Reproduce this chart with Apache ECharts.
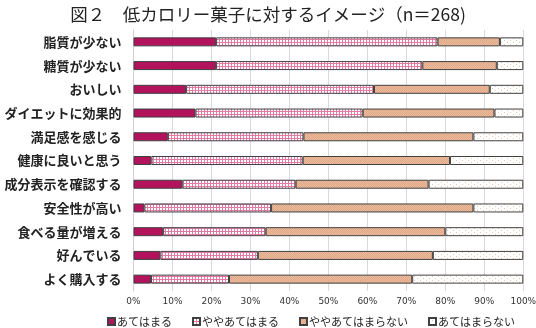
<!DOCTYPE html>
<html><head><meta charset="utf-8">
<script src="https://cdn.jsdelivr.net/npm/echarts@6/dist/echarts.min.js"></script>
<style>html,body{margin:0;padding:0;background:#fff;}#c{width:536px;height:328px;}</style>
</head><body><div id="c"></div>
<script>
const categories = ['脂質が少ない','糖質が少ない','おいしい','ダイエットに効果的','満足感を感じる','健康に良いと思う','成分表示を確認する','安全性が高い','食べる量が増える','好んでいる','よく購入する'];
const seriesNames = ['あてはまる','ややあてはまる','ややあてはまらない','あてはまらない'];
const atehamaru      = [21.2, 21.2, 13.5, 15.9,  8.8,  4.6, 12.5,  2.8,  7.6,  6.9,  4.5];
const yayaAtehamaru  = [56.8, 52.9, 48.2, 42.9, 34.8, 38.8, 29.1, 32.5, 26.3, 25.0, 20.0];
const yayaAtehamaranai = [16.0, 19.1, 29.7, 33.8, 43.6, 37.8, 34.1, 51.9, 46.1, 44.9, 47.0];
const atehamaranai   = [ 6.0,  6.8,  8.6,  7.4, 12.8, 18.8, 24.3, 12.8, 20.0, 23.2, 28.5];
const xTicks = [0,10,20,30,40,50,60,70,80,90,100];

function pattern(w, h, draw) {
  const c = document.createElement('canvas');
  c.width = w; c.height = h;
  const ctx = c.getContext('2d');
  draw(ctx);
  return { image: c, repeat: 'repeat' };
}
const hatch = pattern(3, 3, ctx => {
  ctx.fillStyle = '#ffffff'; ctx.fillRect(0,0,3,3);
  ctx.fillStyle = '#e27aa2'; ctx.fillRect(0,0,3,1); ctx.fillRect(0,0,1,3);
});
const tan = pattern(2, 2, ctx => {
  ctx.fillStyle = '#ebbb9c'; ctx.fillRect(0,0,2,2);
  ctx.fillStyle = '#dfa888'; ctx.fillRect(0,0,1,1); ctx.fillRect(1,1,1,1);
});
const dots = pattern(6, 4, ctx => {
  ctx.fillStyle = '#ffffff'; ctx.fillRect(0,0,6,4);
  ctx.fillStyle = '#e8c8b0'; ctx.fillRect(0,0,1,1); ctx.fillRect(3,2,1,1);
});
const fills = ['#b3125c', hatch, tan, dots];
const dataSets = [atehamaru, yayaAtehamaru, yayaAtehamaranai, atehamaranai];

const chart = echarts.init(document.getElementById('c'), null, {renderer: 'canvas'});
chart.setOption({
  backgroundColor: '#ffffff',
  animation: false,
  title: {
    text: '図２　低カロリー菓子に対するイメージ（n＝268)',
    left: 'center', top: 1,
    textStyle: { fontFamily: 'Noto Sans CJK JP', fontSize: 17.5, fontWeight: 'normal', color: '#222' }
  },
  legend: {
    left: 102, top: 311,
    itemWidth: 7, itemHeight: 7, itemGap: 20,
    icon: 'rect',
    textStyle: { fontFamily: 'Noto Sans CJK JP', fontSize: 11, color: '#222', padding: [0,0,0,-3] },
    data: seriesNames
  },
  grid: { left: 133.5, right: 12.7, top: 30, bottom: 37, containLabel: false, outerBoundsMode: 'none' },
  xAxis: {
    type: 'value', min: 0, max: 100, interval: 10,
    axisLabel: { formatter: v => v + '%', fontSize: 9, color: '#333', margin: 6, fontFamily: 'DejaVu Sans' },
    splitLine: { lineStyle: { color: '#d9d9d9', width: 1 } },
    axisLine: { show: false }, axisTick: { show: false }
  },
  yAxis: {
    type: 'category', data: categories, inverse: true,
    axisLine: { show: true, lineStyle: { color: '#d0d0d0' } },
    axisTick: { show: false },
    axisLabel: { fontFamily: 'Noto Sans CJK JP', fontSize: 13, fontWeight: 'bold', color: '#222', margin: 12 }
  },
  series: seriesNames.map((n, i) => ({
    name: n, type: 'bar', stack: 'all', barWidth: 9,
    data: dataSets[i],
    itemStyle: { color: fills[i], borderColor: '#404040', borderWidth: 1 }
  }))
});
</script></body></html>
